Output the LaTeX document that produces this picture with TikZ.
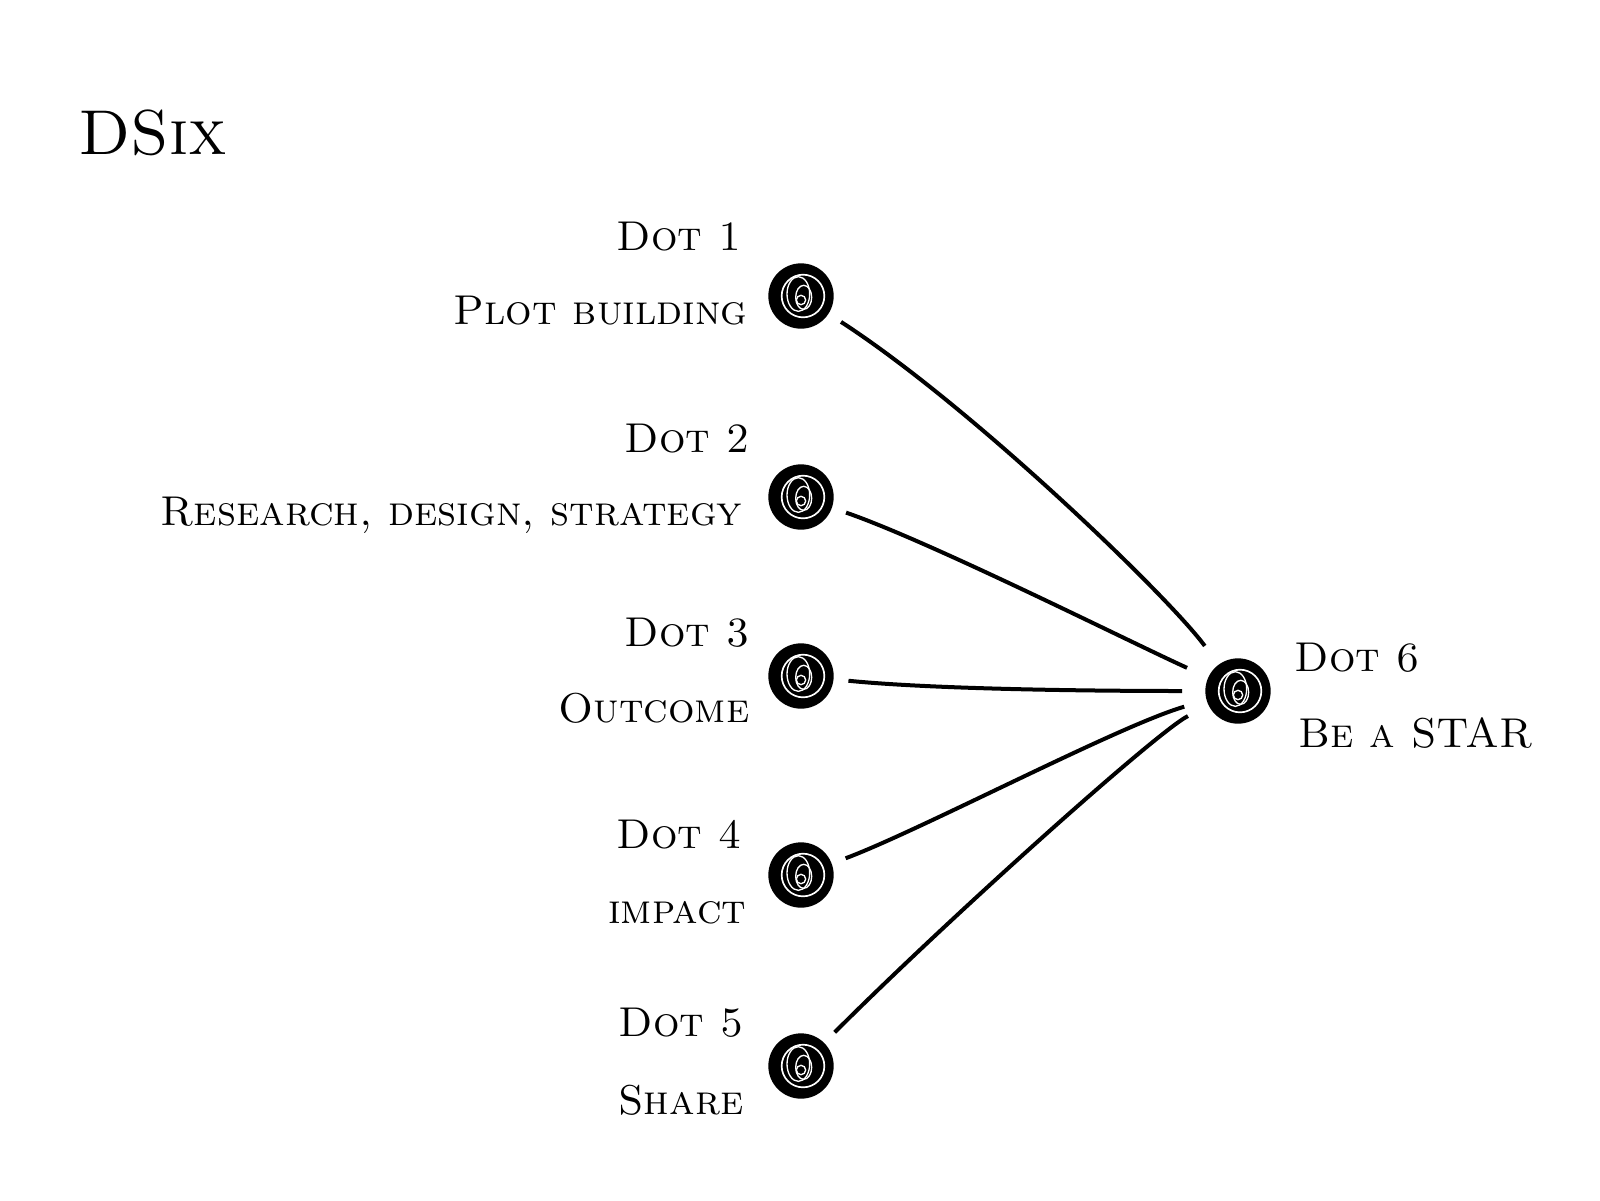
\documentclass[tikz,border=0pt]{standalone}
\usepackage{tikz}
\usepackage{amsmath}

\tikzset{
  dot/.style={circle,draw=black,fill=black,line width=1pt,minimum size=18.6pt,inner sep=0pt,
    path picture={
      \draw[white,line width=0.5pt] ([xshift=0.6pt]path picture bounding box.center) circle (6.4pt);
      \draw[white,line width=0.4pt] ([xshift=-0.8pt,yshift=0.6pt]path picture bounding box.center) ellipse (3.4pt and 5.2pt);
      \draw[white,line width=0.4pt] ([xshift=0.8pt,yshift=-0.4pt]path picture bounding box.center) ellipse (2.4pt and 3.6pt);
      \draw[white,line width=0.4pt] ([yshift=-1.2pt]path picture bounding box.center) circle (1.4pt);
    }},
  lab/.style={font=\fontsize{12.5}{15}\selectfont\scshape,inner sep=0pt},
  link/.style={line width=1.2pt,shorten <=4.5pt,shorten >=7pt}
}

\begin{document}
\begin{tikzpicture}[x=0.3pt,y=-0.3pt]
\useasboundingbox (0,0) rectangle (1600,1200);
% title:
\node[font=\fontsize{19}{22}\selectfont\scshape] (title) at (153,133) {DSix};
% dots:
\node[dot] (d1) at (801,296) {};
\node[dot] (d2) at (801,497) {};
\node[dot] (d3) at (801,676) {};
\node[dot] (d4) at (801,875) {};
\node[dot] (d5) at (801,1066) {};
\node[dot] (d6) at (1238,691) {};
% labels:
\node[lab,anchor=east] (t1) at (742,237) {Dot 1};
\node[lab,anchor=east] (n1) at (748,311) {Plot building};
\node[lab,anchor=east] (t2) at (750,439) {Dot 2};
\node[lab,anchor=east] (n2) at (743,515) {Research, design, strategy};
\node[lab,anchor=east] (t3) at (750,633) {Dot 3};
\node[lab,anchor=east] (n3) at (750,708) {Outcome};
\node[lab,anchor=east] (t4) at (742,835) {Dot 4};
\node[lab,anchor=east] (n4) at (747,913) {impact};
\node[lab,anchor=east] (t5) at (744,1023) {Dot 5};
\node[lab,anchor=east] (n5) at (744,1100) {Share};
\node[lab,anchor=west] (t6) at (1294,658) {Dot 6};
\node[lab,anchor=west] (n6) at (1298,733) {Be a STAR};
% links:
\draw[link] (d1) .. controls +(170,110) and +(-70,-95) .. (d6);
\draw[link] (d2) .. controls +(130,45) and +(-110,-50) .. (d6);
\draw[link] (d3) .. controls +(140,14) and +(-120,0) .. (d6);
\draw[link] (d4) .. controls +(120,-45) and +(-120,35) .. (d6);
\draw[link] (d5) .. controls +(150,-150) and +(-80,40) .. (d6);
\end{tikzpicture}
\end{document}
